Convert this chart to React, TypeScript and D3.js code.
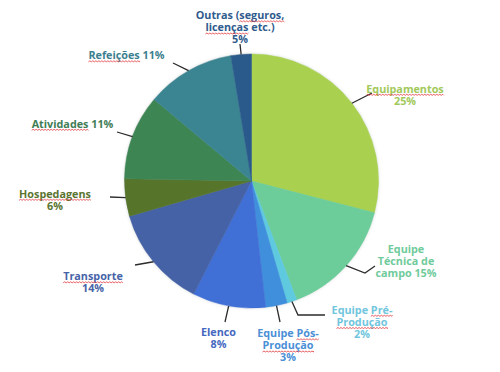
import { useEffect, useRef } from 'react';
import * as d3 from 'd3';

// slice order clockwise from 12 o'clock
const categories = [
  'Equipamentos', 'Equipe Técnica de campo', 'Equipe Pré-Produção', 'Equipe Pós-Produção',
  'Elenco', 'Transporte', 'Hospedagens', 'Atividades', 'Refeições', 'Outras (seguros, licenças etc.)',
];
// slice sizes as drawn (they don't match the printed percentages exactly)
const values = [29, 15.2, 1.25, 2.75, 9.3, 13, 4.75, 10.8, 11.3, 2.6];
const pctLabels = ['25%', '15%', '2%', '3%', '8%', '14%', '6%', '11%', '11%', '5%'];
const sliceColors = ['#a9d04f', '#6ccd9a', '#5fc9e0', '#3f8fdc', '#3f6fd6', '#4562a7', '#56752b', '#3d8553', '#3b8592', '#2b5a8b'];
const labelColors = ['#a2c95a', '#6fcb9b', '#71c6dd', '#4b8fd6', '#4568c0', '#4763a8', '#5b7431', '#3f7d56', '#3d7f8f', '#2f5b8d'];
const labelLines = [
  ['Equipamentos', pctLabels[0]],
  ['Equipe', 'Técnica de', `campo ${pctLabels[1]}`],
  ['Equipe Pré-', 'Produção', pctLabels[2]],
  ['Equipe Pós-', 'Produção', pctLabels[3]],
  ['Elenco', pctLabels[4]],
  ['Transporte', pctLabels[5]],
  ['Hospedagens', pctLabels[6]],
  [`Atividades ${pctLabels[7]}`],
  [`Refeições ${pctLabels[8]}`],
  ['Outras (seguros,', 'licenças etc.)', pctLabels[9]],
];
// words the spell-checker underlined: [line, word]
const squiggles: [number, string][][] = [
  [[0, 'Equipamentos']], [], [[0, 'Pré-'], [1, 'Produção']], [[0, 'Pós-'], [1, 'Produção']],
  [], [[0, 'Transporte']], [[0, 'Hospedagens']], [[0, 'Atividades']], [[0, 'Refeições']],
  [[0, 'seguros,'], [1, 'licenças']],
];

// label placement: text centre x, first line centre y, leader bend points
const layout = [
  { x: 405, y: 88.5, pts: [[372, 93]] },
  { x: 406, y: 248.5, pts: [[365, 273], [375, 266]] },
  { x: 362, y: 309.5, pts: [[298, 315], [325, 315]] },
  { x: 288, y: 333, pts: [[280, 322]] },
  { x: 218.5, y: 332, pts: [[225, 322]] },
  { x: 93, y: 276, pts: [[135, 265]] },
  { x: 55, y: 193.5, pts: [[110, 197]] },
  { x: 72.5, y: 123.5, pts: [[117, 132]] },
  { x: 126.5, y: 55, pts: [[173, 63]] },
  { x: 240, y: 15, pts: [[240, 44]] },
];

export default function App() {
  const ref = useRef<SVGSVGElement>(null);

  useEffect(() => {
    if (!ref.current) return;
    document.body.style.margin = '0';
    const svg = d3.select(ref.current);
    svg.selectAll('*').remove();

    const cx = 251.5, cy = 181, R = 127;
    const defs = svg.append('defs');
    const f = defs.append('filter').attr('id', 'soft').attr('x', '-10%').attr('y', '-10%').attr('width', '120%').attr('height', '120%');
    f.append('feDropShadow').attr('dx', 0).attr('dy', 0).attr('stdDeviation', 1.6)
      .attr('flood-color', '#7f8c8d').attr('flood-opacity', 0.35);

    const pie = d3.pie<number>().sort(null).value(d => d);
    const arcs = pie(values);
    const arc = d3.arc<d3.PieArcDatum<number>>().innerRadius(0).outerRadius(R);

    const g = svg.append('g').attr('transform', `translate(${cx},${cy})`);
    const pg = g.append('g').attr('filter', 'url(#soft)');
    pg.selectAll('path').data(arcs).enter().append('path')
      .attr('d', arc).attr('fill', (_, i) => sliceColors[i])
      .attr('stroke', (_, i) => sliceColors[i]).attr('stroke-width', 0.5);

    // leader lines from slice mid-angle on the rim
    const line = d3.line();
    arcs.forEach((a, i) => {
      const mid = (a.startAngle + a.endAngle) / 2;
      const start: [number, number] = [cx + R * Math.sin(mid), cy - R * Math.cos(mid)];
      const pts = [start, ...layout[i].pts.map(p => [p[0], p[1]] as [number, number])];
      svg.append('path').attr('d', line(pts)).attr('fill', 'none')
        .attr('stroke', '#2b2b2b').attr('stroke-width', 1.3);
    });

    const lh = 12.2;
    categories.forEach((_, i) => {
      const L = layout[i];
      labelLines[i].forEach((txt, li) => {
        const t = svg.append('text')
          .attr('x', L.x).attr('y', L.y + li * lh + 4)
          .attr('text-anchor', 'middle')
          .attr('font-family', '"Open Sans", sans-serif')
          .attr('font-weight', 700).attr('font-size', '10.8px')
          .attr('fill', labelColors[i]).text(txt);
        squiggles[i].filter(s => s[0] === li).forEach(([, word]) => {
          const node = t.node() as SVGTextElement;
          const k = txt.indexOf(word);
          if (k < 0) return;
          const a0 = node.getExtentOfChar(k);
          const a1 = node.getExtentOfChar(k + word.length - 1);
          const x0 = a0.x, x1 = a1.x + a1.width;
          const yb = L.y + li * lh + 6.8;
          let d = `M${x0},${yb}`;
          for (let x = x0, up = true; x < x1; x += 1.5, up = !up) {
            d += ` L${Math.min(x + 1.5, x1)},${yb + (up ? -1 : 0)}`;
          }
          svg.append('path').attr('d', d).attr('fill', 'none')
            .attr('stroke', '#e0393e').attr('stroke-width', 0.8);
        });
      });
    });
  }, []);

  return (
    <svg ref={ref} width={500} height={372}
      style={{ position: 'absolute', left: 0, top: 0, background: '#fff' }} />
  );
}
